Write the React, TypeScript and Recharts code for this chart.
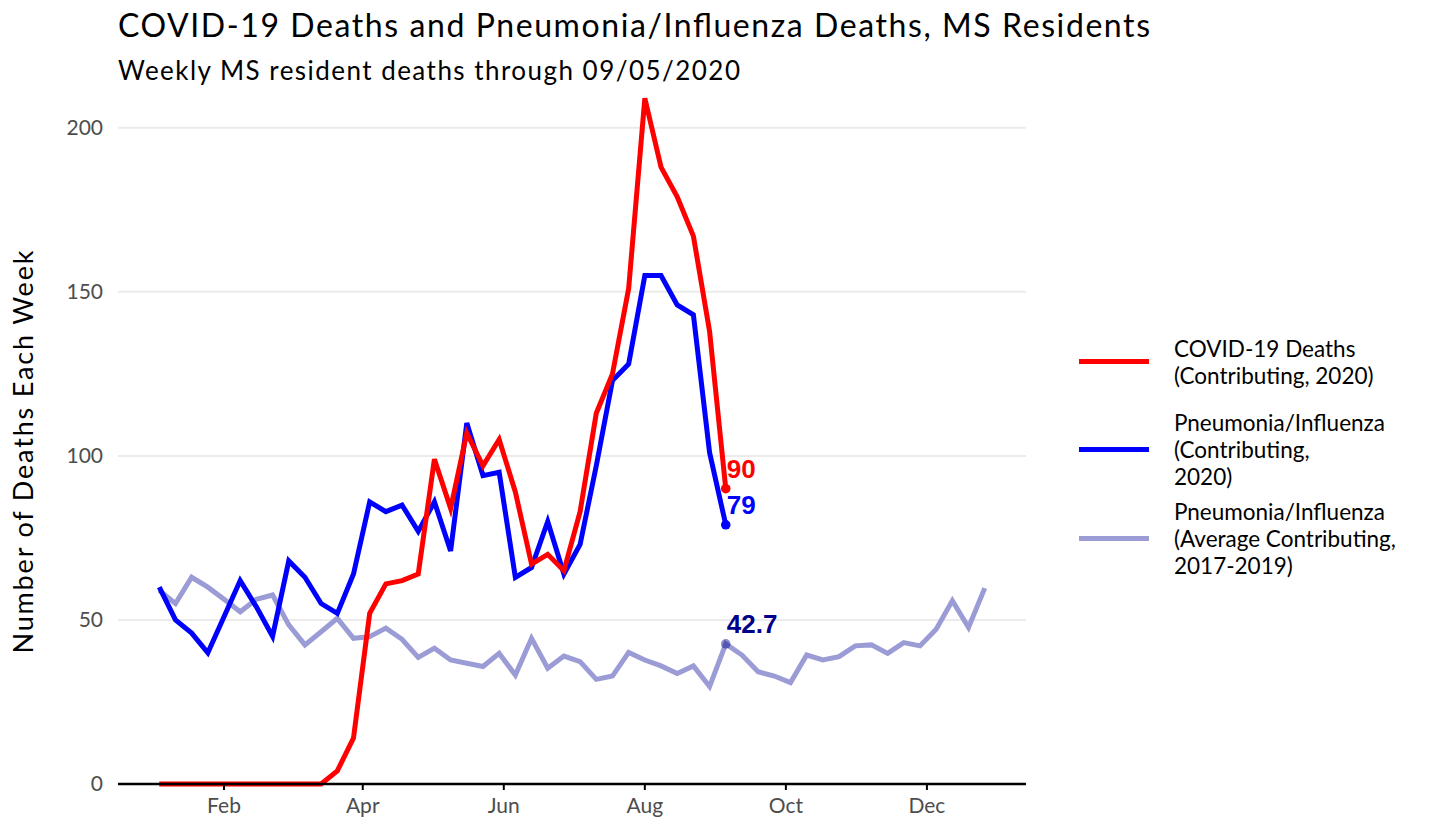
import { CartesianGrid, Legend, Line, LineChart, XAxis, YAxis } from 'recharts';

// week-ending dates (Saturdays)
const weeks = [
  '2020-01-04', '2020-01-11', '2020-01-18', '2020-01-25',
  '2020-02-01', '2020-02-08', '2020-02-15', '2020-02-22', '2020-02-29',
  '2020-03-07', '2020-03-14', '2020-03-21', '2020-03-28',
  '2020-04-04', '2020-04-11', '2020-04-18', '2020-04-25',
  '2020-05-02', '2020-05-09', '2020-05-16', '2020-05-23', '2020-05-30',
  '2020-06-06', '2020-06-13', '2020-06-20', '2020-06-27',
  '2020-07-04', '2020-07-11', '2020-07-18', '2020-07-25',
  '2020-08-01', '2020-08-08', '2020-08-15', '2020-08-22', '2020-08-29',
  '2020-09-05', '2020-09-12', '2020-09-19', '2020-09-26',
  '2020-10-03', '2020-10-10', '2020-10-17', '2020-10-24', '2020-10-31',
  '2020-11-07', '2020-11-14', '2020-11-21', '2020-11-28',
  '2020-12-05', '2020-12-12', '2020-12-19', '2020-12-26',
];

const covid2020 = [
  0, 0, 0, 0, 0, 0, 0, 0, 0, 0, 0, 4, 14, 52, 61, 62, 64, 99, 84, 107, 97, 105,
  89, 67, 70, 65, 83, 113, 125, 151, 209, 188, 179, 167, 138, 90,
];

const pneuFlu2020 = [
  60, 50, 46, 40, 51, 62, 54, 45, 68, 63, 55, 52, 64, 86, 83, 85, 77, 86, 71,
  110, 94, 95, 63, 66, 80, 64, 73, 97, 123, 128, 155, 155, 146, 143, 101, 79,
];

const pneuFluAvg = [
  59, 55, 63, 60, 56.3, 52.5, 56.3, 57.6, 48.5, 42.4, 46.4, 50.5, 44.4, 44.9,
  47.5, 44.1, 38.6, 41.4, 37.8, 36.8, 35.8, 39.8, 33.2, 44.4, 35.3, 39, 37.3,
  31.9, 32.9, 40.1, 37.8, 36, 33.7, 36, 29.7, 42.7, 39.3, 34.2, 32.9, 30.9,
  39.3, 37.8, 38.8, 42.1, 42.4, 39.8, 43.1, 42.1, 47.2, 55.9, 47.7, 59.7,
];

const monthTicks = ['2020-02-01', '2020-04-01', '2020-06-01', '2020-08-01', '2020-10-01', '2020-12-01'];
const monthNames = ['Jan', 'Feb', 'Mar', 'Apr', 'May', 'Jun', 'Jul', 'Aug', 'Sep', 'Oct', 'Nov', 'Dec'];
const yTicks = [0, 50, 100, 150, 200];

const toMs = (d: string) => Date.parse(`${d}T00:00:00Z`);
const LAST = covid2020.length - 1; // 09/05/2020

const chartData = weeks.map((w, i) => ({
  t: toMs(w),
  covid: covid2020[i] ?? null,
  pneu: pneuFlu2020[i] ?? null,
  avg: pneuFluAvg[i],
}));

// ggplot-style 5% expansion on the date axis
const tMin = chartData[0].t;
const tMax = chartData[chartData.length - 1].t;
const pad = (tMax - tMin) * 0.05;

const FONT = 'Lato, "Open Sans", sans-serif';

const legendItems = [
  { color: '#ff0000', lines: ['COVID-19 Deaths', '(Contributing, 2020)'], top: 5, lineY: 31 },
  { color: '#0000ff', lines: ['Pneumonia/Influenza', '(Contributing,', '2020)'], top: 79, lineY: 119 },
  { color: '#9b9bd5', lines: ['Pneumonia/Influenza', '(Average Contributing,', '2017-2019)'], top: 168, lineY: 208 },
];

function endDot(color: string, labelColor: string, opacity = 1) {
  return (props: any) => {
    const { cx, cy, index } = props;
    if (index !== LAST || cx == null || cy == null) return <g key={`d-${index}`} />;
    return (
      <g key={`d-${index}`}>
        <circle cx={cx} cy={cy} r={4.8} fill={color} fillOpacity={opacity} />
        <text
          x={cx + 1}
          y={cy - 11}
          fill={labelColor}
          fontSize={26}
          fontWeight="bold"
          fontFamily='"Liberation Sans", Arial, sans-serif'
        >
          {props.value}
        </text>
      </g>
    );
  };
}

function renderLegend() {
  return (
    <div style={{ position: 'relative', width: 345, height: 260, fontFamily: FONT }}>
      {legendItems.map((item) => (
        <div key={item.lines[0] + item.top}>
          <div
            style={{
              position: 'absolute',
              left: 0,
              top: item.lineY - 2.5,
              width: 70,
              height: 5,
              background: item.color,
            }}
          />
          <div
            style={{
              position: 'absolute',
              left: 95,
              top: item.top,
              fontSize: 22.5,
              lineHeight: '27px',
              color: '#000',
              whiteSpace: 'nowrap',
            }}
          >
            {item.lines.map((l) => (
              <div key={l}>{l}</div>
            ))}
          </div>
        </div>
      ))}
    </div>
  );
}

export default function App() {
  return (
    <div style={{ position: 'absolute', left: 0, top: 0, width: 1429, height: 823, background: '#fff' }}>
      <LineChart
        width={1429}
        height={823}
        data={chartData}
        margin={{ top: 95, right: 403, bottom: 0, left: 0 }}
      >
        <CartesianGrid
          stroke="#ebebeb"
          strokeWidth={2}
          vertical={false}
          horizontalValues={yTicks}
        />
        <XAxis
          dataKey="t"
          type="number"
          scale="time"
          domain={[tMin - pad, tMax + pad]}
          ticks={monthTicks.map(toMs)}
          tickFormatter={(v) => monthNames[new Date(Number(v)).getUTCMonth()]}
          height={39}
          axisLine={{ stroke: '#000', strokeWidth: 2.5 }}
          tickLine={{ stroke: '#000', strokeWidth: 2 }}
          tickSize={6}
          tickMargin={8}
          tick={{ fill: '#4d4d4d', fontSize: 21, fontFamily: FONT }}
        />
        <YAxis
          domain={[0, 210]}
          ticks={yTicks}
          width={118}
          axisLine={false}
          tickLine={false}
          tickSize={0}
          tickMargin={15}
          tick={{ fill: '#4d4d4d', fontSize: 21, fontFamily: FONT }}
        />
        <Legend
          layout="vertical"
          align="center"
          verticalAlign="middle"
          content={renderLegend}
          wrapperStyle={{ position: 'absolute', left: 1079, top: 330, width: 345 }}
        />
        <Line
          dataKey="avg"
          name="Pneumonia/Influenza (Average Contributing, 2017-2019)"
          stroke="#9b9bd5"
          strokeWidth={5}
          dot={endDot('#00008b', '#00008b', 0.45)}
          activeDot={false}
          isAnimationActive={false}
        />
        <Line
          dataKey="pneu"
          name="Pneumonia/Influenza (Contributing, 2020)"
          stroke="#0000ff"
          strokeWidth={5}
          dot={endDot('#0000ff', '#0000ff')}
          activeDot={false}
          isAnimationActive={false}
        />
        <Line
          dataKey="covid"
          name="COVID-19 Deaths (Contributing, 2020)"
          stroke="#ff0000"
          strokeWidth={5}
          dot={endDot('#ff0000', '#ff0000')}
          activeDot={false}
          isAnimationActive={false}
        />
      </LineChart>
      <svg
        width={1429}
        height={823}
        style={{ position: 'absolute', left: 0, top: 0, pointerEvents: 'none' }}
      >
        <text
          x={118}
          y={37}
          fontSize={32}
          textLength={1032}
          lengthAdjust="spacing"
          fontFamily={FONT}
          fill="#000"
        >
          COVID-19 Deaths and Pneumonia/Influenza Deaths, MS Residents
        </text>
        <text
          x={118}
          y={80}
          fontSize={26}
          textLength={622}
          lengthAdjust="spacing"
          fontFamily={FONT}
          fill="#000"
        >
          Weekly MS resident deaths through 09/05/2020
        </text>
        <text
          x={0}
          y={0}
          transform="translate(33 452) rotate(-90)"
          textAnchor="middle"
          fontSize={27}
          textLength={403}
          lengthAdjust="spacing"
          fontFamily={FONT}
          fill="#000"
        >
          Number of Deaths Each Week
        </text>
      </svg>
    </div>
  );
}
